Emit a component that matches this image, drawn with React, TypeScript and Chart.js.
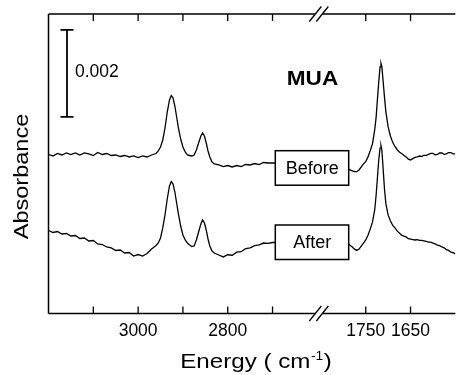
import React, { useEffect, useRef } from "react";
import { Chart, registerables } from "chart.js";

Chart.register(...registerables);

// ---- data ----
const WN_LEFT = [
  3200, 3190, 3180, 3170, 3160, 3150, 3140, 3130, 3120, 3110, 3100, 3090, 3080,
  3070, 3060, 3050, 3040, 3030, 3020, 3010, 3000, 2990, 2980, 2970, 2960,
  2955, 2950, 2945, 2940, 2935, 2930, 2926, 2922, 2918, 2914, 2910, 2905, 2900,
  2895, 2890, 2885, 2880, 2875, 2870, 2865, 2860, 2856, 2852, 2848, 2844, 2840,
  2835, 2830, 2820, 2810, 2800, 2790, 2780, 2770, 2760, 2750, 2740, 2730, 2720,
  2710, 2700, 2650, 2590,
];
const BEFORE_LEFT = [
  3.655, 3.621, 3.678, 3.644, 3.69, 3.655, 3.69, 3.644, 3.69, 3.667, 3.632, 3.701, 3.655,
  3.678, 3.632, 3.644, 3.609, 3.632, 3.598, 3.621, 3.586, 3.621, 3.598, 3.644, 3.678,
  3.736, 3.828, 3.989, 4.264, 4.632, 4.908, 5.011, 4.954, 4.77, 4.517, 4.264, 4.011, 3.828,
  3.713, 3.644, 3.632, 3.621, 3.644, 3.759, 3.92, 4.08, 4.149, 4.08, 3.92, 3.736, 3.598,
  3.483, 3.437, 3.414, 3.379, 3.402, 3.368, 3.402, 3.379, 3.425, 3.414, 3.448, 3.425, 3.471,
  3.46, 3.46, 3.46, 3.44,
];
const AFTER_LEFT = [
  1.908, 1.862, 1.885, 1.828, 1.839, 1.782, 1.793, 1.724, 1.736, 1.667, 1.678, 1.598, 1.586,
  1.529, 1.506, 1.448, 1.46, 1.391, 1.402, 1.322, 1.356, 1.322, 1.379, 1.483, 1.563,
  1.621, 1.736, 1.966, 2.264, 2.632, 2.931, 3.034, 2.977, 2.793, 2.54, 2.287, 2.011, 1.805,
  1.69, 1.621, 1.575, 1.54, 1.552, 1.69, 1.874, 2.057, 2.149, 2.08, 1.92, 1.713, 1.552,
  1.437, 1.391, 1.345, 1.3, 1.35, 1.34, 1.41, 1.42, 1.49, 1.51, 1.56, 1.58, 1.62,
  1.61, 1.632, 1.64, 1.64,
];
const WN_RIGHT = [
  1848, 1820, 1800, 1796, 1790, 1785, 1780, 1775, 1770, 1765, 1760, 1755, 1750, 1745,
  1740, 1735, 1730, 1727, 1724, 1721, 1718, 1716, 1714, 1711, 1708, 1705, 1700, 1695,
  1690, 1685, 1680, 1675, 1670, 1665, 1660, 1655, 1650, 1645, 1640, 1635, 1630, 1625,
  1620, 1615, 1610, 1605, 1600, 1595, 1590, 1585, 1580, 1575, 1570, 1565, 1560, 1555, 1550,
];
const BEFORE_RIGHT = [
  3.46, 3.45, 3.41, 3.38, 3.33, 3.3, 3.28, 3.26, 3.26, 3.3, 3.37, 3.44, 3.49, 3.6,
  3.74, 3.9, 4.22, 4.49, 4.91, 5.32, 5.67, 5.75, 5.67, 5.32, 4.95, 4.63, 4.29, 4.08,
  3.94, 3.84, 3.77, 3.71, 3.68, 3.64, 3.6, 3.55, 3.53, 3.56, 3.59, 3.6, 3.62, 3.61,
  3.64, 3.63, 3.66, 3.68, 3.68, 3.65, 3.66, 3.69, 3.69, 3.66, 3.67, 3.7, 3.7, 3.67, 3.67,
];
const AFTER_RIGHT = [
  1.64, 1.66, 1.69, 1.68, 1.62, 1.57, 1.53, 1.48, 1.45, 1.48, 1.55, 1.62, 1.69, 1.8,
  1.94, 2.1, 2.38, 2.7, 3.11, 3.53, 3.8, 3.86, 3.76, 3.3, 2.84, 2.52, 2.26, 2.13,
  2.03, 1.97, 1.9, 1.85, 1.8, 1.78, 1.76, 1.72, 1.71, 1.7, 1.69, 1.7, 1.68, 1.68,
  1.67, 1.66, 1.64, 1.64, 1.62, 1.6, 1.57, 1.56, 1.53, 1.51, 1.47, 1.45, 1.41, 1.4, 1.37,
];

const X_LEFT_RANGE = [2590, 3200];
const X_RIGHT_RANGE = [1550, 1848];
const TICKS_LEFT = [3100, 3000, 2900, 2800, 2700];
const TICKS_RIGHT = [1750, 1650];
const TICK_LABELS = [3000, 2800, 1750, 1650];
const Y_RANGE = [0, 6.885];
const SCALE_BAR = [4.52, 6.52]; // 0.002 absorbance
const SCALE_BAR_LABEL = "0.002";
const SAMPLE_LABEL = "MUA";
const SERIES_LABELS = ["Before", "After"];
const X_TITLE = "Energy ( cm";
const X_TITLE_SUP = "-1";
const Y_TITLE = "Absorbance";

const FONT = "'Liberation Sans', Arial, Helvetica, sans-serif";

const overlay = {
  id: "overlay",
  afterDatasetsDraw(chart: any) {
    const ctx: CanvasRenderingContext2D = chart.ctx;
    const { left, top, right, bottom } = chart.chartArea;
    const xL = chart.scales.xL;
    const xR = chart.scales.xR;
    const y = chart.scales.y;
    const b = xL.right - 3;
    ctx.save();
    ctx.strokeStyle = "#000";
    ctx.fillStyle = "#000";
    ctx.lineWidth = 1.5;
    ctx.lineCap = "butt";
    // frame
    ctx.beginPath();
    ctx.moveTo(left, top);
    ctx.lineTo(left, bottom);
    for (const yy of [top, bottom]) {
      ctx.moveTo(left, yy);
      ctx.lineTo(b - 4, yy);
      ctx.moveTo(b + 4, yy);
      ctx.lineTo(right, yy);
    }
    ctx.stroke();
    // break marks
    ctx.lineWidth = 1.3;
    ctx.beginPath();
    for (const yy of [top, bottom]) {
      for (const cx of [b - 3.5, b + 3.5]) {
        ctx.moveTo(cx - 6, yy + 7.5);
        ctx.lineTo(cx + 6, yy - 7.5);
      }
    }
    ctx.stroke();
    // ticks
    ctx.lineWidth = 1.3;
    ctx.beginPath();
    const tickPx = [
      ...TICKS_LEFT.map((v) => xL.getPixelForValue(v)),
      ...TICKS_RIGHT.map((v) => xR.getPixelForValue(v)),
    ];
    for (const px of tickPx) {
      ctx.moveTo(px, top);
      ctx.lineTo(px, top + 7);
      ctx.moveTo(px, bottom);
      ctx.lineTo(px, bottom - 7);
    }
    ctx.stroke();
    // scale bar
    const sx = left + 18.5;
    const sy1 = y.getPixelForValue(SCALE_BAR[1]);
    const sy2 = y.getPixelForValue(SCALE_BAR[0]);
    ctx.lineWidth = 1.8;
    ctx.beginPath();
    ctx.moveTo(sx, sy1);
    ctx.lineTo(sx, sy2);
    ctx.moveTo(sx - 6.5, sy1);
    ctx.lineTo(sx + 6.5, sy1);
    ctx.moveTo(sx - 6.5, sy2);
    ctx.lineTo(sx + 6.5, sy2);
    ctx.stroke();
    ctx.font = `17.5px ${FONT}`;
    ctx.textAlign = "left";
    ctx.textBaseline = "middle";
    ctx.fillText(SCALE_BAR_LABEL, sx + 8, (sy1 + sy2) / 2 - 1);
    // MUA
    ctx.save();
    ctx.translate(312.5, 79.5);
    ctx.scale(1.13, 1);
    ctx.font = `bold 20px ${FONT}`;
    ctx.textAlign = "center";
    ctx.fillText(SAMPLE_LABEL, 0, 0);
    ctx.restore();
    // boxes
    const boxes = [
      { text: SERIES_LABELS[0], x: 275.3, y: 150.7 },
      { text: SERIES_LABELS[1], x: 275.3, y: 225 },
    ];
    for (const bx of boxes) {
      ctx.fillStyle = "#fff";
      ctx.fillRect(bx.x, bx.y, 73.4, 34.5);
      ctx.lineWidth = 1.5;
      ctx.strokeRect(bx.x, bx.y, 73.4, 34.5);
      ctx.fillStyle = "#000";
      ctx.font = `18px ${FONT}`;
      ctx.textAlign = "center";
      ctx.textBaseline = "middle";
      ctx.fillText(bx.text, bx.x + 37, bx.y + 18);
    }
    // y title
    ctx.save();
    ctx.translate(22.5, 176.5);
    ctx.rotate(-Math.PI / 2);
    ctx.scale(1.12, 1);
    ctx.font = `21px ${FONT}`;
    ctx.textAlign = "center";
    ctx.textBaseline = "middle";
    ctx.fillText(Y_TITLE, 0, 0);
    ctx.restore();
    // x title with superscript
    ctx.save();
    ctx.translate(256, 367.5);
    ctx.scale(1.15, 1);
    ctx.textBaseline = "alphabetic";
    ctx.textAlign = "left";
    ctx.font = `21px ${FONT}`;
    const w1 = ctx.measureText(X_TITLE).width;
    const w3 = ctx.measureText(")").width;
    ctx.font = `12px ${FONT}`;
    const w2 = ctx.measureText(X_TITLE_SUP).width;
    const total = w1 + w2 + w3 + 1;
    let cx = -total / 2;
    ctx.font = `21px ${FONT}`;
    ctx.fillText(X_TITLE, cx, 0);
    cx += w1;
    ctx.font = `12px ${FONT}`;
    ctx.fillText(X_TITLE_SUP, cx + 0.5, -8);
    cx += w2 + 1;
    ctx.font = `21px ${FONT}`;
    ctx.fillText(")", cx, 0);
    ctx.restore();
    ctx.restore();
  },
};

export default function App() {
  const ref = useRef<HTMLCanvasElement | null>(null);
  useEffect(() => {
    if (!ref.current) return;
    const line = { borderColor: "#000", borderWidth: 1.3, pointRadius: 0, fill: false, tension: 0, yAxisID: "y" };
    const tickFont = { family: FONT, size: 17.5 };
    const xCommon = (range: number[], ticks: number[], weight: number) => ({
      type: "linear",
      position: "bottom",
      stack: "x",
      stackWeight: weight,
      min: range[0],
      max: range[1],
      reverse: true,
      grid: { display: false, drawTicks: false },
      border: { display: false },
      afterBuildTicks: (s: any) => {
        s.ticks = ticks.map((v) => ({ value: v }));
      },
      ticks: {
        autoSkip: false,
        maxRotation: 0,
        padding: 7,
        color: "#000",
        font: tickFont,
        callback: (v: any) => (TICK_LABELS.includes(Number(v)) ? String(v) : ""),
      },
    });
    const chart = new Chart(ref.current, {
      type: "line",
      data: {
        datasets: [
          { ...line, label: "Before", xAxisID: "xL", data: WN_LEFT.map((x, i) => ({ x, y: BEFORE_LEFT[i] })) },
          { ...line, label: "Before", xAxisID: "xR", data: WN_RIGHT.map((x, i) => ({ x, y: BEFORE_RIGHT[i] })) },
          { ...line, label: "After", xAxisID: "xL", data: WN_LEFT.map((x, i) => ({ x, y: AFTER_LEFT[i] })) },
          { ...line, label: "After", xAxisID: "xR", data: WN_RIGHT.map((x, i) => ({ x, y: AFTER_RIGHT[i] })) },
        ] as any,
      },
      options: {
        animation: false,
        responsive: false,
        devicePixelRatio: 1,
        layout: { padding: { left: 48.5, right: 0, top: 14, bottom: 26.5 } },
        plugins: { legend: { display: false }, tooltip: { enabled: false } },
        scales: {
          xL: xCommon(X_LEFT_RANGE, TICKS_LEFT, X_LEFT_RANGE[1] - X_LEFT_RANGE[0]),
          xR: xCommon(X_RIGHT_RANGE, TICKS_RIGHT, X_RIGHT_RANGE[1] - X_RIGHT_RANGE[0]),
          y: { type: "linear", display: false, min: Y_RANGE[0], max: Y_RANGE[1] },
        } as any,
      },
      plugins: [overlay],
    });
    return () => chart.destroy();
  }, []);
  return (
    <div style={{ position: "absolute", left: 0, top: 0, width: 461, height: 375, background: "#fff" }}>
      <canvas ref={ref} width={461} height={375} style={{ display: "block" }} />
    </div>
  );
}
